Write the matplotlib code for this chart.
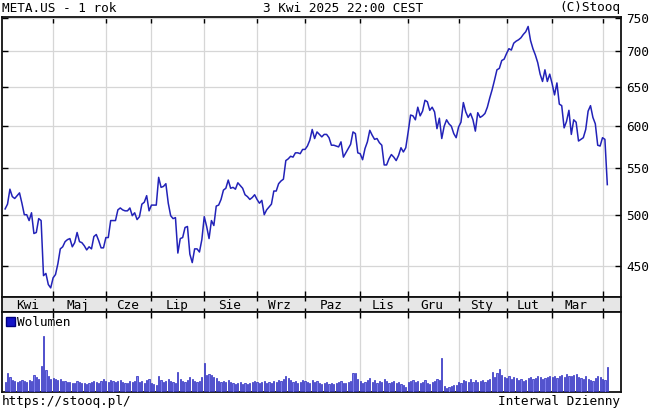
import matplotlib
matplotlib.use("Agg")
import matplotlib.pyplot as plt
import numpy as np
import pandas as pd
from matplotlib.patches import Patch
from matplotlib.ticker import FixedLocator, NullLocator, FixedFormatter

plt.rcParams['font.family'] = ['DejaVu Sans Mono']

# trading calendar: 1 year of META.US daily sessions
holidays = ['2024-05-27', '2024-06-19', '2024-07-04', '2024-09-02', '2024-11-28',
            '2024-12-25', '2025-01-01', '2025-01-09', '2025-01-20', '2025-02-17']

# closing prices (USD), month by month
close = [
    # Kwi 2024
    506, 511, 527, 519, 517, 520, 523, 512, 500, 500, 494, 502, 481, 482, 496, 494, 441, 443, 433, 430,
    # Maj
    439, 442, 452, 466, 468, 473, 475, 476, 468, 472, 482, 473, 472, 469, 465, 468, 466, 478, 480, 474, 467, 467,
    # Cze
    477, 477, 494, 494, 494, 505, 507, 505, 504, 504, 507, 499, 502, 495, 498, 511, 513, 520, 504,
    # Lip
    510, 510, 510, 540, 529, 530, 533, 512, 499, 496, 497, 462, 476, 477, 487, 488, 461, 453, 466, 466, 463, 475,
    # Sie
    498, 488, 476, 494, 489, 509, 510, 516, 526, 528, 537, 528, 529, 527, 534, 531, 528, 521, 519, 516, 518, 521,
    # Wrz
    516, 512, 515, 500, 505, 508, 511, 525, 525, 533, 536, 538, 559, 561, 564, 563, 568, 568, 567, 572,
    # Paz
    572, 576, 583, 596, 585, 593, 590, 587, 590, 590, 586, 577, 577, 576, 575, 581, 563, 568, 573, 578, 593, 591, 568,
    # Lis
    567, 560, 573, 581, 595, 589, 584, 585, 580, 577, 554, 554, 561, 566, 563, 559, 565, 574, 569, 574,
    # Gru
    593, 614, 613, 608, 624, 613, 619, 633, 631, 620, 624, 618, 597, 610, 585, 600, 608, 603, 600, 591, 586,
    # Sty 2025
    599, 605, 630, 618, 611, 616, 608, 594, 617, 611, 613, 616, 624, 636, 647, 660, 674, 676, 687, 689,
    # Lut
    697, 704, 702, 712, 715, 717, 720, 725, 729, 737, 716, 704, 695, 684, 668, 658, 674, 658, 668,
    # Mar
    655, 640, 656, 628, 626, 598, 606, 620, 590, 608, 605, 582, 584, 586, 596, 619, 626, 611, 603, 577, 576,
    # Kwi
    586, 584, 532,
]

# volume (mln shares)
volume = [
    20, 40, 30, 24, 22, 20, 22, 24, 22, 20, 24, 22, 36, 30, 26, 54, 116, 46, 32, 26,
    28, 26, 24, 26, 22, 22, 20, 20, 18, 18, 22, 20, 18, 18, 16, 18, 20, 22, 20, 18, 22, 26,
    22, 20, 24, 22, 20, 22, 24, 20, 18, 18, 22, 20, 22, 34, 20, 22, 18, 24, 26,
    18, 16, 14, 32, 24, 20, 22, 26, 22, 20, 18, 42, 26, 22, 20, 24, 30, 26, 22, 20, 22, 30,
    60, 36, 38, 36, 30, 28, 22, 20, 22, 20, 24, 20, 18, 16, 18, 20, 16, 18, 16, 18, 20, 22,
    20, 18, 20, 22, 18, 20, 18, 22, 20, 24, 22, 26, 32, 28, 24, 20, 22, 18, 20, 24,
    22, 20, 18, 24, 20, 22, 18, 16, 18, 20, 16, 18, 16, 18, 20, 22, 18, 18, 20, 22, 40, 40, 26,
    22, 18, 20, 24, 28, 20, 24, 18, 22, 20, 26, 22, 18, 20, 22, 18, 20, 16, 14, 10,
    20, 22, 24, 20, 22, 18, 20, 24, 18, 16, 20, 22, 26, 24, 70, 12, 8, 10, 12, 14, 14,
    20, 18, 24, 22, 20, 26, 20, 24, 20, 22, 24, 20, 24, 26, 42, 30, 40, 48, 36, 30,
    28, 32, 26, 30, 28, 24, 26, 22, 24, 28, 30, 26, 28, 34, 30, 26, 28, 30, 32,
    30, 34, 28, 32, 36, 30, 38, 34, 32, 36, 38, 30, 28, 26, 32, 26, 24, 22, 28, 34, 30,
    26, 24, 52,
]

month_names = ['Sty', 'Lut', 'Mar', 'Kwi', 'Maj', 'Cze', 'Lip', 'Sie', 'Wrz', 'Paz', 'Lis', 'Gru']
price_ticks = [450, 500, 550, 600, 650, 700, 750]

dates = pd.bdate_range('2024-04-03', '2025-04-03', freq='C', holidays=holidays)
df = pd.DataFrame({'date': dates, 'close': close, 'volume': volume})
df['i'] = np.arange(len(df))
df['ym'] = df['date'].dt.to_period('M')

month_start = df.groupby('ym')['i'].min()
month_len = df.groupby('ym')['i'].size()
starts = list(month_start.values[1:])

line_col = '#2222b8'
grid_col = '#d6d6d6'
xlim = (-1.3, 256.5)

fig = plt.figure(figsize=(6.51, 4.12), dpi=100)
W, H = 651, 412

def box(x0, y0, x1, y1):
    return [x0 / W, 1 - y1 / H, (x1 - x0) / W, (y1 - y0) / H]

ax = fig.add_axes(box(2, 17, 620.5, 297))
band = fig.add_axes(box(2, 297, 620.5, 312))
vax = fig.add_axes(box(2, 312, 620.5, 392))

# price panel
ax.plot(df['i'], df['close'], color=line_col, lw=1.1, zorder=3)
ax.set_yscale('log')
ax.set_ylim(422, 751.5)
ax.set_xlim(*xlim)
ax.yaxis.set_major_locator(FixedLocator(price_ticks))
ax.yaxis.set_major_formatter(FixedFormatter([str(v) for v in price_ticks]))
ax.yaxis.set_minor_locator(NullLocator())
ax.set_xticks(starts)
ax.tick_params(axis='y', direction='in', left=True, right=True, labelleft=False,
               labelright=True, length=4, width=1, labelsize=9.2, pad=4)
ax.tick_params(axis='x', direction='in', top=True, bottom=True, labelbottom=False,
               length=4, width=1)
ax.grid(True, color=grid_col, lw=0.9, zorder=0)

# month band
band.set_facecolor('#e6e6e6')
band.set_xlim(*xlim)
band.set_ylim(0, 1)
band.set_yticks([])
band.set_xticks(starts)
band.tick_params(axis='x', direction='in', top=True, bottom=True, labelbottom=False,
                 length=3, width=1)
for ym, s in month_start.items():
    n = month_len[ym]
    if n >= 10:
        band.text(s + (n - 1) / 2, 0.45, month_names[ym.month - 1], ha='center',
                  va='center', fontsize=9.2)

# volume panel
vax.bar(df['i'], df['volume'], width=0.5, color='#7c7cec', edgecolor='#2626bc',
        lw=0.5, zorder=3)
vax.set_xlim(*xlim)
vax.set_ylim(0, 165)
vax.set_yticks([])
vax.set_xticks(starts)
vax.tick_params(axis='x', direction='in', top=True, bottom=False, labelbottom=False,
                length=4, width=1)
vax.grid(True, axis='x', color=grid_col, lw=0.9, zorder=0)
vax.legend(handles=[Patch(facecolor='#1414c8', edgecolor='#000080')], labels=['Wolumen'],
           loc='upper left', frameon=False, fontsize=9.2, handlelength=0.7,
           handleheight=0.7, handletextpad=0.2, borderaxespad=0.1, borderpad=0.2)

for a in (ax, band, vax):
    for sp in a.spines.values():
        sp.set_linewidth(1.3)
        sp.set_color('#111111')

fig.text(2 / W, 1 - 8 / H, 'META.US - 1 rok', ha='left', va='center', fontsize=9.2)
fig.text(343 / W, 1 - 8 / H, '3 Kwi 2025 22:00 CEST', ha='center', va='center', fontsize=9.2)
fig.text(620 / W, 1 - 8 / H, '(C)Stooq', ha='right', va='center', fontsize=9.2)
fig.text(2 / W, 1 - 402 / H, 'https://stooq.pl/', ha='left', va='center', fontsize=9.2)
fig.text(620 / W, 1 - 402 / H, 'Interwal Dzienny', ha='right', va='center', fontsize=9.2)

fig.savefig('out.png', dpi=100)
